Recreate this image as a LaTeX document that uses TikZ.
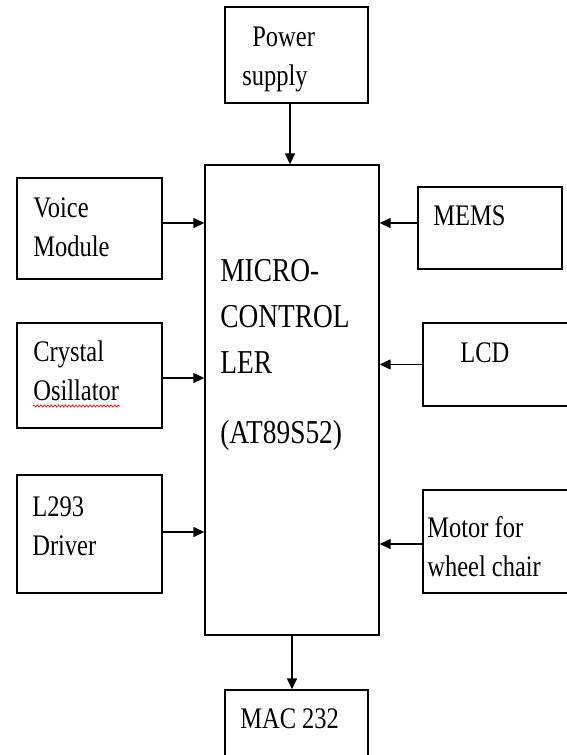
\documentclass[tikz,border=0pt]{standalone}
\usepackage{fontspec}
\setmainfont{Liberation Serif}[FakeStretch=0.82]
\usetikzlibrary{arrows.meta,decorations.pathmorphing}
\begin{document}
\begin{tikzpicture}[x=0.02cm,y=-0.02cm]
\tikzstyle{block}=[draw,rectangle,line width=0.8pt,inner sep=0pt]
\tikzstyle{txt}=[anchor=base west,align=left,inner sep=0pt,font=\fontsize{17}{22}\selectfont]
\tikzstyle{link}=[-{Triangle[length=0.22cm,width=0.2cm]},line width=0.8pt]

\useasboundingbox (0,0) rectangle (566,755);

% Blocks
\foreach \n/\x/\y/\w/\h in {power/296.5/55/2.86/1.92, micro/292/400/3.48/9.40,
                            mac/296.5/735/2.86/1.80,
                            voice/89.5/228.5/2.90/2.02, crystal/89.5/375.5/2.90/2.10,
                            l293/89.5/534/2.90/2.36,
                            mems/490/228/2.88/1.64, lcd/511.5/364.5/3.54/1.66,
                            motor/511.5/541.5/3.54/2.06} {
  \node[block,minimum width=\w cm,minimum height=\h cm] (\n) at (\x,\y) {};
}

% Texts (anchored on the baseline of the last line)
\node[txt] (powertxt) at (242,85) {\hspace*{0.2cm}Power\\supply};
\node[txt,font=\fontsize{19}{26}\selectfont] (microtxt) at (220,443)
  {MICRO-\\CONTROL\\LER\\[0.48cm](AT89S52)};
\node[txt] (mactxt) at (240,728) {MAC 232};
\node[txt] (voicetxt) at (33,256) {Voice\\Module};
\node[txt] (crystaltxt) at (33,400) {Crystal\\Osillator};
\node[txt] (l293txt) at (32,555) {L293\\Driver};
\node[txt] (memstxt) at (433,225) {MEMS};
\node[txt] (lcdtxt) at (460,362) {LCD};
\node[txt] (motortxt) at (427,576) {Motor for\\wheel chair};

% spell-check mark
\draw[red,line width=0.4pt,decorate,decoration={zigzag,amplitude=0.6pt,segment length=2pt}]
  (33,406) -- (120,406);

% Power -> controller
\coordinate (pin) at ([xshift=-0.13cm]power.south);
\draw[link] (pin) -- (pin |- micro.north);

% Inputs on the left
\foreach \n/\s in {voice/0.11,crystal/-0.05,l293/0.04}
  \draw[link] ([yshift=\s cm]\n.east) coordinate (a) -- (a -| micro.west);

% Inputs on the right
\foreach \n/\s in {mems/0.10,lcd/0,motor/-0.05}
  \draw[link] ([yshift=\s cm]\n.west) coordinate (a) -- (a -| micro.east);

% Controller -> MAC 232
\draw[link] (micro.south) -- (micro.south |- mac.north);
\end{tikzpicture}
\end{document}
